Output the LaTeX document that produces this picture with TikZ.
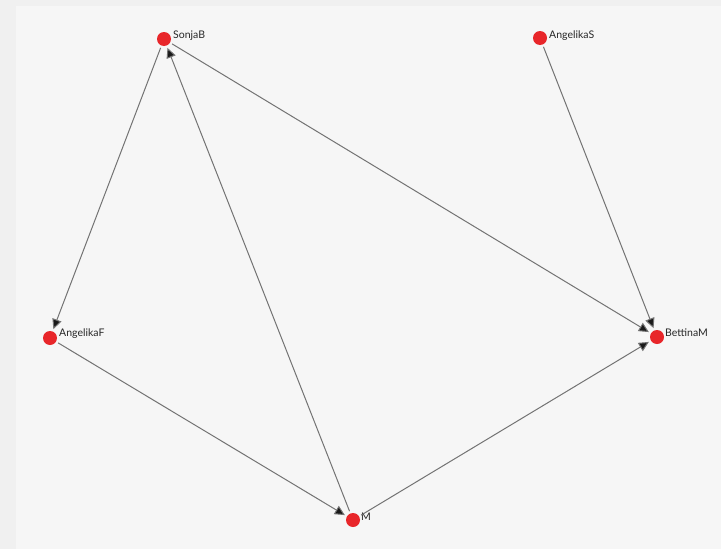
\documentclass[tikz,border=0pt]{standalone}
\usepackage{fontspec}
\setmainfont{Lato}
\usetikzlibrary{arrows.meta}
\definecolor{bgout}{HTML}{F0F0F0}
\definecolor{bgin}{HTML}{F6F6F6}
\definecolor{nodered}{HTML}{E8262A}
\definecolor{edgegray}{HTML}{737373}
\tikzset{
  vert/.style={circle, fill=nodered, minimum size=14pt, inner sep=0pt, outer sep=2.5pt},
  lbl/.style={anchor=west, inner sep=0pt, font=\fontsize{10.5}{12}\selectfont, text=black!85},
  edge/.style={draw=edgegray, line width=1pt, -{Triangle[length=10pt,width=9.5pt,fill=black!90]}}
}
\begin{document}
\begin{tikzpicture}[x=1pt,y=-1pt]
\useasboundingbox (0,0) rectangle (721,549);
\fill[bgout] (0,0) rectangle (721,549);
\fill[bgin] (16,6) rectangle (721,549);
\node[vert] (S) at (164,39) {};
\node[vert] (AS) at (540,38) {};
\node[vert] (AF) at (50,338) {};
\node[vert] (B) at (657,337) {};
\node[vert] (M) at (353,520) {};
\node[lbl] (lS) at (173,36) {SonjaB};
\node[lbl] (lAS) at (549,36) {AngelikaS};
\node[lbl] (lAF) at (59,334) {AngelikaF};
\node[lbl] (lB) at (665,333) {BettinaM};
\node[lbl] (lM) at (361,517) {M};
\draw[edge] (S) -- (AF);
\draw[edge] (M) -- (S);
\draw[edge] (S) -- (B);
\draw[edge] (AS) -- (B);
\draw[edge] (AF) -- (M);
\draw[edge] (M) -- (B);
\end{tikzpicture}
\end{document}
